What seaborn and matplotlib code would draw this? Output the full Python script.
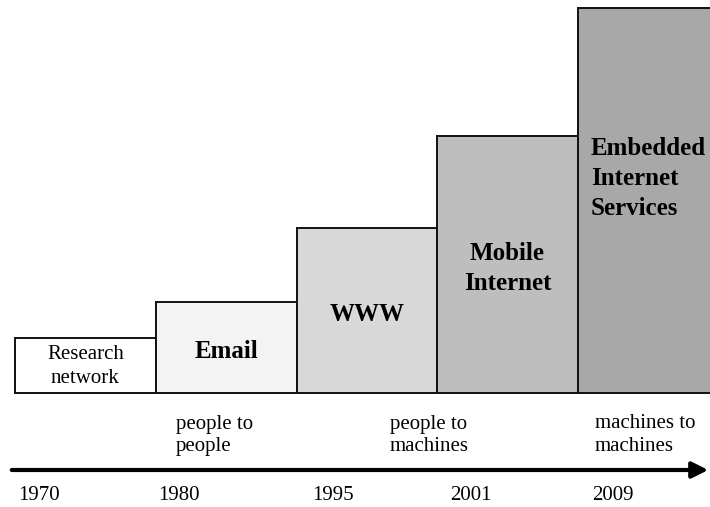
import numpy as np
import pandas as pd
import matplotlib
matplotlib.use("Agg")
import matplotlib.pyplot as plt
import seaborn as sns

# data (heights in pixel-ish units)
stages = ["Research\nnetwork", "Email", "WWW", "Mobile\nInternet",
          "Embedded\nInternet\nServices"]
heights = [55, 91, 165, 257, 385]
shades = ["#ffffff", "#f2f3f2", "#d8d8d8", "#bebebe", "#a8a8a8"]
bold = [False, True, True, True, True]
years = ["1970", "1980", "1995", "2001", "2009"]
eras = ["people to\npeople", "people to\nmachines", "machines to\nmachines"]

W, H = 710, 507

def fx(x):
    return x / W

def fy(y):
    return 1 - y / H

sns.set_theme(style="white")
plt.rcParams['font.family'] = ['Liberation Serif', 'DejaVu Serif']

fig = plt.figure(figsize=(7.1, 5.07), dpi=100)
ax = fig.add_axes([fx(15), fy(393), fx(710 - 15), 393 / H])

df = pd.DataFrame({"stage": stages, "height": heights})
sns.barplot(data=df, x="stage", y="height", hue="stage", palette=shades,
            width=1.0, edgecolor="#111111", linewidth=1.4, legend=False,
            saturation=1, ax=ax)
for p in ax.patches:
    p.set_clip_on(False)

ax.set_xlim(-0.5, -0.5 + 695 / 140.75)
ax.set_ylim(0, 393)
ax.axis("off")

# labels inside the bars
for i, (lab, h, b) in enumerate(zip(stages, heights, bold)):
    if i == 4:
        ax.text(3.59, 256, lab, ha="left", va="top", fontsize=18,
                fontweight="bold", color="black", linespacing=1.4)
    elif b:
        ax.text(i, h / 2 - 4, lab, ha="center", va="center", fontsize=18,
                fontweight="bold", color="black", linespacing=1.4)
    else:
        ax.text(i, h / 2 - 1, lab, ha="center", va="center", fontsize=15,
                color="black", linespacing=1.35)

# timeline arrow
fig.patches.append(matplotlib.patches.FancyArrowPatch(
    (fx(9), fy(470)), (fx(711), fy(470)), transform=fig.transFigure,
    arrowstyle="-|>", mutation_scale=24, linewidth=3, color="black"))

year_x = [18, 158, 312, 450, 592]
for x, yr in zip(year_x, years):
    fig.text(fx(x), fy(495), yr, ha="left", va="center", fontsize=15,
             color="black")

era_x = [176, 390, 595]
for x, e in zip(era_x, eras):
    fig.text(fx(x), fy(451), e, ha="left", va="baseline", fontsize=15,
             linespacing=1.25, color="black")

fig.savefig("out.png", dpi=100)
